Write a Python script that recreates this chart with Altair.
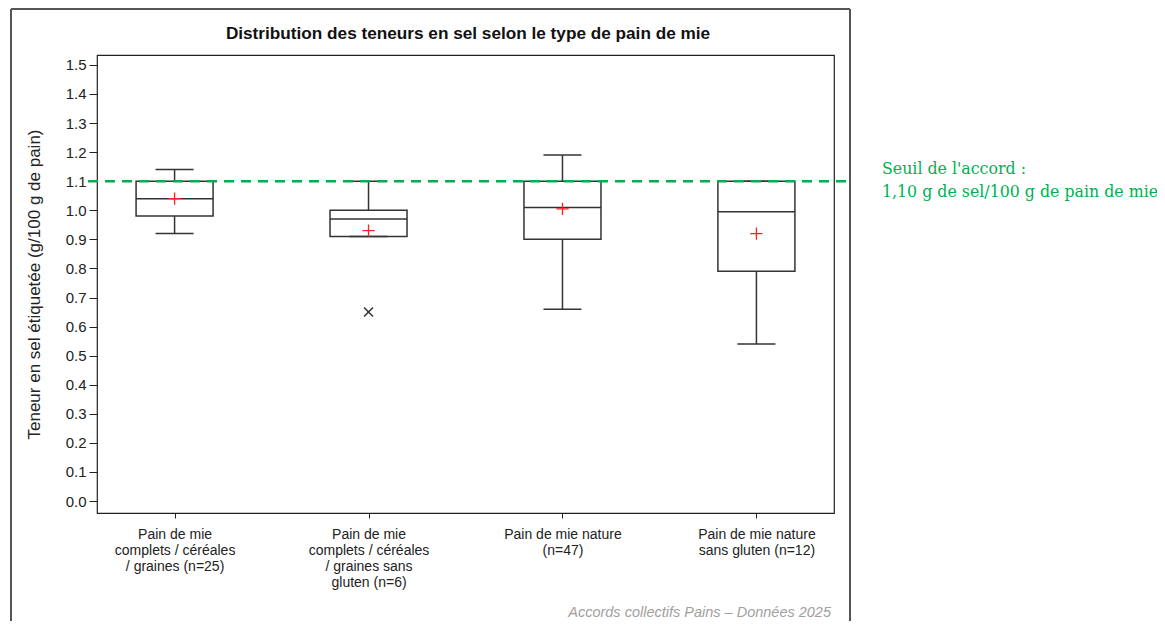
import altair as alt
import pandas as pd

# ---- data ----
categories = [
    "Pain de mie|complets / céréales|/ graines (n=25)",
    "Pain de mie|complets / céréales|/ graines sans|gluten (n=6)",
    "Pain de mie nature|(n=47)",
    "Pain de mie nature|sans gluten (n=12)",
]
whisker_low = [0.92, 0.91, 0.66, 0.54]
q1 = [0.98, 0.91, 0.90, 0.79]
median = [1.04, 0.97, 1.01, 0.995]
q3 = [1.10, 1.00, 1.10, 1.10]
whisker_high = [1.14, 1.10, 1.19, 1.10]
mean = [1.04, 0.93, 1.005, 0.92]

outlier_cat = [categories[1]]
outlier_val = [0.65]

threshold = 1.10
y_ticks = [round(i * 0.1, 1) for i in range(16)]

title_text = "Distribution des teneurs en sel selon le type de pain de mie"
y_title = "Teneur en sel étiquetée (g/100 g de pain)"
annot_text = "Seuil de l'accord :\n1,10 g de sel/100 g de pain de mie"
footer_text = "Accords collectifs Pains – Données 2025"

df = pd.DataFrame({
    "cat": categories, "lo": whisker_low, "q1": q1, "med": median,
    "q3": q3, "hi": whisker_high, "mean": mean,
})
df_out = pd.DataFrame({"cat": outlier_cat, "val": outlier_val})
df_one = pd.DataFrame({"v": [threshold]})

W, H = 737, 458
BOX = "#333333"

xenc = alt.X(
    "cat:N", sort=categories, title=None,
    scale=alt.Scale(type="point", padding=0.4),
    axis=alt.Axis(labelExpr="split(datum.label, '|')", labelAngle=0,
                  labelAlign="center", labelBaseline="top", labelLineHeight=16,
                  labelPadding=9, tickSize=5, domain=False, labelFontSize=14,
                  labelColor="#222", tickColor="#222"),
)
yscale = alt.Scale(domain=[-0.041, 1.534], nice=False, zero=False)
yaxis = alt.Axis(values=y_ticks, format=".1f", title=y_title, tickSize=8,
                 domain=False, labelFontSize=15, labelPadding=3, titleFontSize=17,
                 titleFontWeight="normal", titlePadding=22, labelColor="#222",
                 tickColor="#222", titleColor="#222", grid=False,
                 labelOverlap=False)


def Y(field):
    return alt.Y(field, scale=yscale, axis=yaxis)


base = alt.Chart(df)

whisk_hi = base.mark_rule(color=BOX, strokeWidth=1.5).encode(
    x=xenc, y=Y("q3:Q"), y2="hi:Q")
whisk_lo = base.mark_rule(color=BOX, strokeWidth=1.5).encode(
    x=xenc, y=Y("lo:Q"), y2="q1:Q")
box = base.mark_bar(size=77, fill="white", stroke=BOX, strokeWidth=1.5).encode(
    x=xenc, y=Y("q1:Q"), y2="q3:Q")
med = base.mark_tick(size=77, thickness=1.5, color=BOX, opacity=1).encode(
    x=xenc, y=Y("med:Q"))
cap_hi = base.mark_tick(size=38, thickness=1.5, color=BOX, opacity=1).encode(
    x=xenc, y=Y("hi:Q"))
cap_lo = base.mark_tick(size=38, thickness=1.5, color=BOX, opacity=1).encode(
    x=xenc, y=Y("lo:Q"))
means = base.mark_point(shape="M-1,0L1,0M0,-1L0,1", size=150, color="#ff2020",
                        strokeWidth=1.3, filled=False, opacity=1).encode(
    x=xenc, y=Y("mean:Q"))
outl = alt.Chart(df_out).mark_point(shape="M-1,-1L1,1M-1,1L1,-1", size=80,
                                    color=BOX, strokeWidth=1.5, opacity=1).encode(
    x=xenc, y=Y("val:Q"))

seuil = alt.Chart(df_one).mark_rule(color="#00b050", strokeWidth=2.5,
                                    strokeDash=[10, 7]).encode(
    y=Y("v:Q"), x=alt.value(-9), x2=alt.value(753))
annot = alt.Chart(df_one).mark_text(
    text=annot_text, lineBreak="\n", align="left", baseline="middle", dy=-12,
    font="DejaVu Serif", fontSize=15.8, lineHeight=23, color="#00b050").encode(
    y=Y("v:Q"), x=alt.value(785))

title = alt.Chart(df_one).mark_text(
    text=title_text, align="center", baseline="middle", fontSize=17.2,
    fontWeight="bold", color="#111").encode(
    x=alt.value(371), y=alt.value(-21))

footer = alt.Chart(df_one).mark_text(
    text=footer_text, align="right", baseline="alphabetic", fontSize=14.5,
    fontStyle="italic", color="#a0a0a0").encode(
    x=alt.value(734), y=alt.value(562))

frame_top = alt.Chart(df_one).mark_rule(color="#555", strokeWidth=2).encode(
    x=alt.value(-86), x2=alt.value(753), y=alt.value(-46))
frame_left = alt.Chart(df_one).mark_rule(color="#555", strokeWidth=2).encode(
    x=alt.value(-86), y=alt.value(-46), y2=alt.value(580))
frame_right = alt.Chart(df_one).mark_rule(color="#555", strokeWidth=2).encode(
    x=alt.value(753), y=alt.value(-46), y2=alt.value(580))

chart = alt.layer(
    whisk_hi, whisk_lo, box, med, cap_hi, cap_lo, means, outl,
    seuil, annot, title, footer, frame_top, frame_left, frame_right,
).properties(
    width=W, height=H,
    autosize=alt.AutoSizeParams(type="none"),
    padding={"left": 89, "top": 47, "right": 323, "bottom": 108},
).configure(
    font="Liberation Sans",
).configure_view(
    stroke="#222", strokeWidth=1.2,
)

chart.save("out.html", embed_options={"renderer": "svg", "actions": False})
